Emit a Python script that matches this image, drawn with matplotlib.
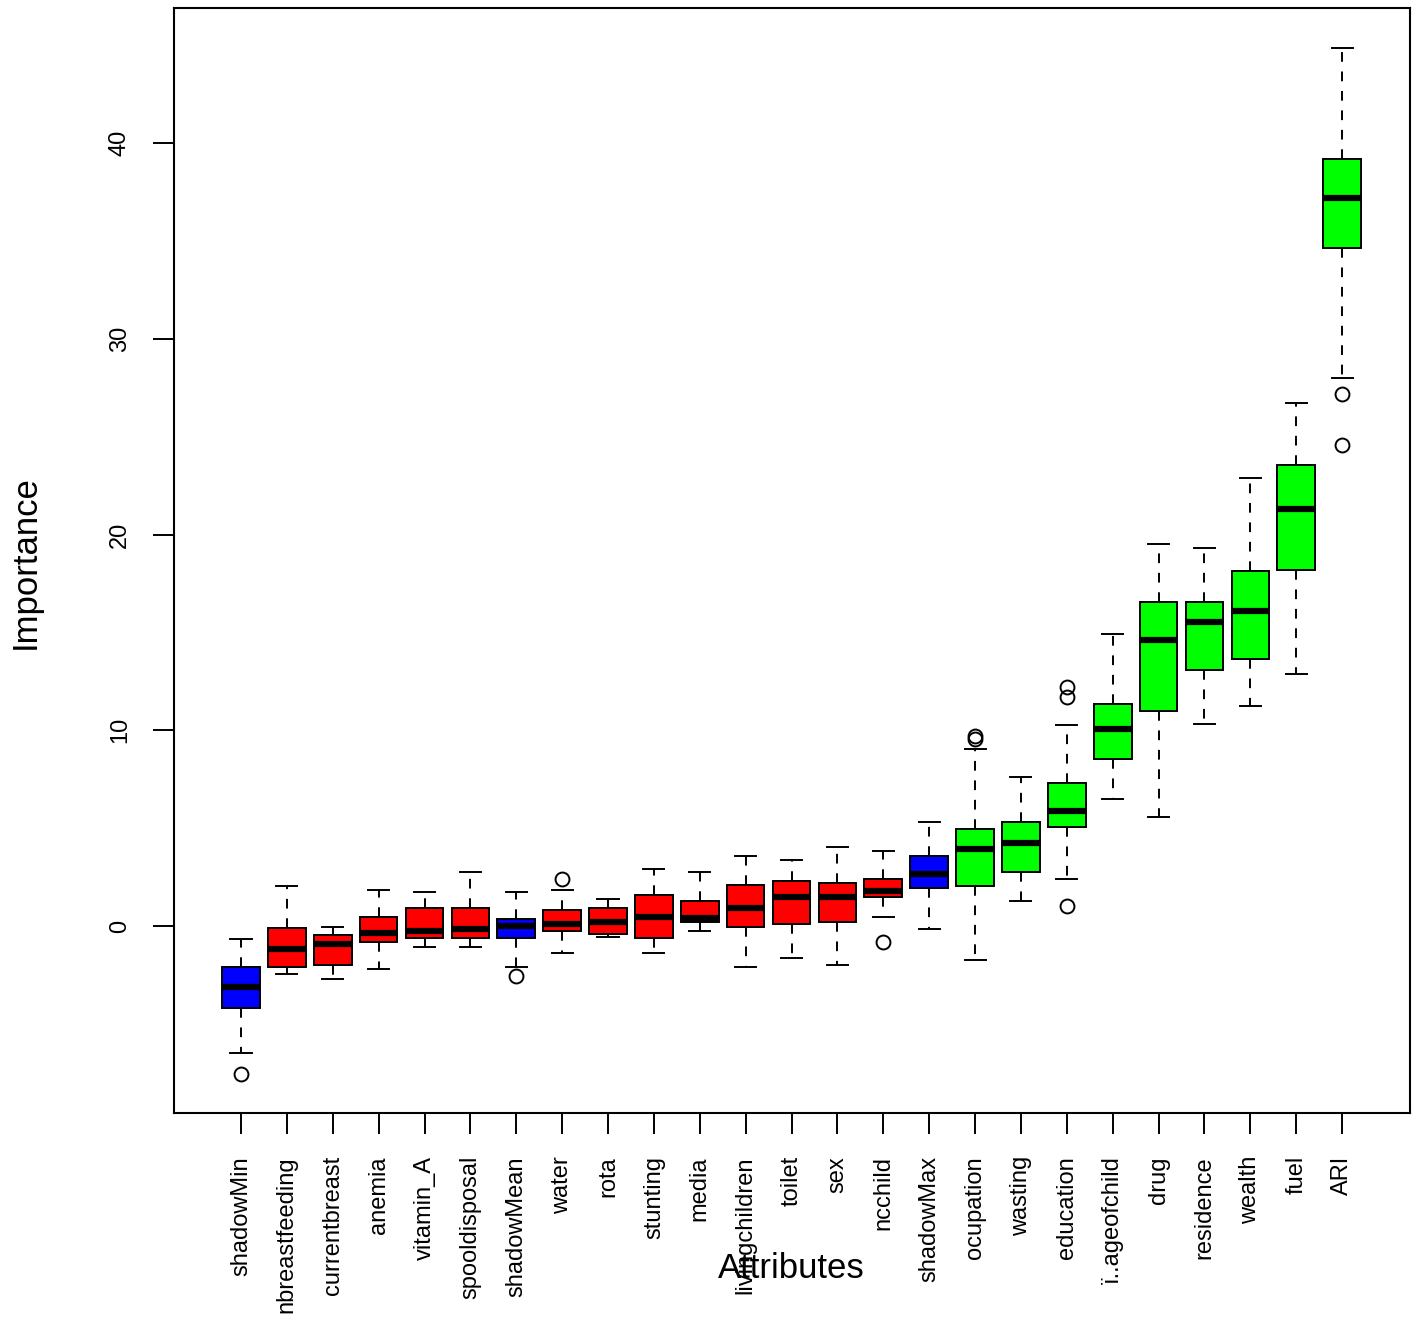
import matplotlib
matplotlib.use("Agg")
import matplotlib.pyplot as plt

plt.rcParams['font.family'] = ['Liberation Sans', 'DejaVu Sans']

labels = ["shadowMin", "nbreastfeeding", "currentbreast", "anemia", "vitamin_A",
          "spooldisposal", "shadowMean", "water", "rota", "stunting", "media",
          "livingchildren", "toilet", "sex", "ncchild", "shadowMax", "ocupation",
          "wasting", "education", "ï..ageofchild", "drug", "residence", "wealth",
          "fuel", "ARI"]

decision = ["shadow", "rejected", "rejected", "rejected", "rejected", "rejected",
            "shadow", "rejected", "rejected", "rejected", "rejected", "rejected",
            "rejected", "rejected", "rejected", "shadow", "confirmed", "confirmed",
            "confirmed", "confirmed", "confirmed", "confirmed", "confirmed",
            "confirmed", "confirmed"]

whislo = [-6.50, -2.45, -2.69, -2.21, -1.06, -1.06, -2.08, -1.40, -0.58, -1.40, -0.24,
          -2.09, -1.63, -1.99, 0.44, -0.14, -1.74, 1.26, 2.40, 6.47, 5.55, 10.30,
          11.24, 12.87, 28.0]
q1 = [-4.21, -2.11, -1.99, -0.83, -0.61, -0.61, -0.61, -0.26, -0.39, -0.61, 0.19,
      -0.05, 0.09, 0.22, 1.48, 1.93, 2.06, 2.74, 5.07, 8.55, 10.97, 13.10,
      13.66, 18.18, 34.62]
med = [-3.13, -1.16, -0.94, -0.34, -0.26, -0.15, 0.00, 0.10, 0.22, 0.44, 0.39,
       0.90, 1.50, 1.50, 1.80, 2.66, 3.94, 4.26, 5.89, 10.08, 14.61, 15.52,
       16.09, 21.32, 37.17]
q3 = [-2.08, -0.12, -0.48, 0.46, 0.90, 0.90, 0.34, 0.80, 0.92, 1.60, 1.28,
      2.08, 2.31, 2.20, 2.42, 3.59, 4.96, 5.30, 7.29, 11.32, 16.54, 16.53,
      18.14, 23.57, 39.21]
whishi = [-0.68, 2.06, -0.03, 1.84, 1.74, 2.76, 1.74, 1.84, 1.36, 2.89, 2.76,
          3.59, 3.35, 4.05, 3.81, 5.33, 9.03, 7.61, 10.29, 14.92, 19.54, 19.32,
          22.91, 26.71, 44.85]
fliers = [[-7.56], [], [], [], [], [], [-2.55], [2.42], [], [], [],
          [], [], [], [-0.83], [], [9.58, 9.70], [], [12.23, 11.72, 1.02], [], [], [],
          [], [], [27.2, 24.55]]

yticks = [0, 10, 20, 30, 40]

colors = {"shadow": "#0000FF", "rejected": "#FF0000", "confirmed": "#00FF00"}

fig = plt.figure(figsize=(14.18, 13.28), dpi=100)
ax = fig.add_axes([174/1418, 1 - 1113/1328, (1410-174)/1418, (1113-8)/1328])

stats = []
for i in range(len(labels)):
    stats.append(dict(label=labels[i], whislo=whislo[i], q1=q1[i], med=med[i],
                      q3=q3[i], whishi=whishi[i], fliers=fliers[i]))

positions = list(range(1, len(labels) + 1))
bp = ax.bxp(stats, positions=positions, widths=0.82, patch_artist=True,
            capwidths=0.46,
            boxprops=dict(edgecolor='black', linewidth=1.4),
            medianprops=dict(color='black', linewidth=4.5, solid_capstyle='butt'),
            whiskerprops=dict(color='black', linewidth=1.4, linestyle=(0, (5, 5))),
            capprops=dict(color='black', linewidth=1.4),
            flierprops=dict(marker='o', markerfacecolor='none', markeredgecolor='black',
                            markersize=10, markeredgewidth=1.4, linestyle='none'))
for patch, d in zip(bp['boxes'], decision):
    patch.set_facecolor(colors[d])

ax.set_xlim(-0.46, 26.48)
ax.set_ylim(-9.55, 46.9)

ax.set_yticks(yticks)
ax.set_yticklabels([str(v) for v in yticks], rotation=90, va='center', fontsize=17)
ax.set_xticks(positions)
ax.set_xticklabels(labels, rotation=90, ha='center', va='top', fontsize=17)

ax.tick_params(axis='both', direction='out', length=15, width=1.4, color='black')
ax.tick_params(axis='y', pad=16)
ax.tick_params(axis='x', pad=16)
for s in ax.spines.values():
    s.set_linewidth(1.5)
    s.set_color('black')

fig.text(791/1418, 1 - 1268/1328, "Attributes", ha='center', va='center', fontsize=25)
fig.text(25/1418, 1 - 562/1328, "Importance", ha='center', va='center', fontsize=25,
         rotation=90)

fig.savefig("out.png", dpi=100)
